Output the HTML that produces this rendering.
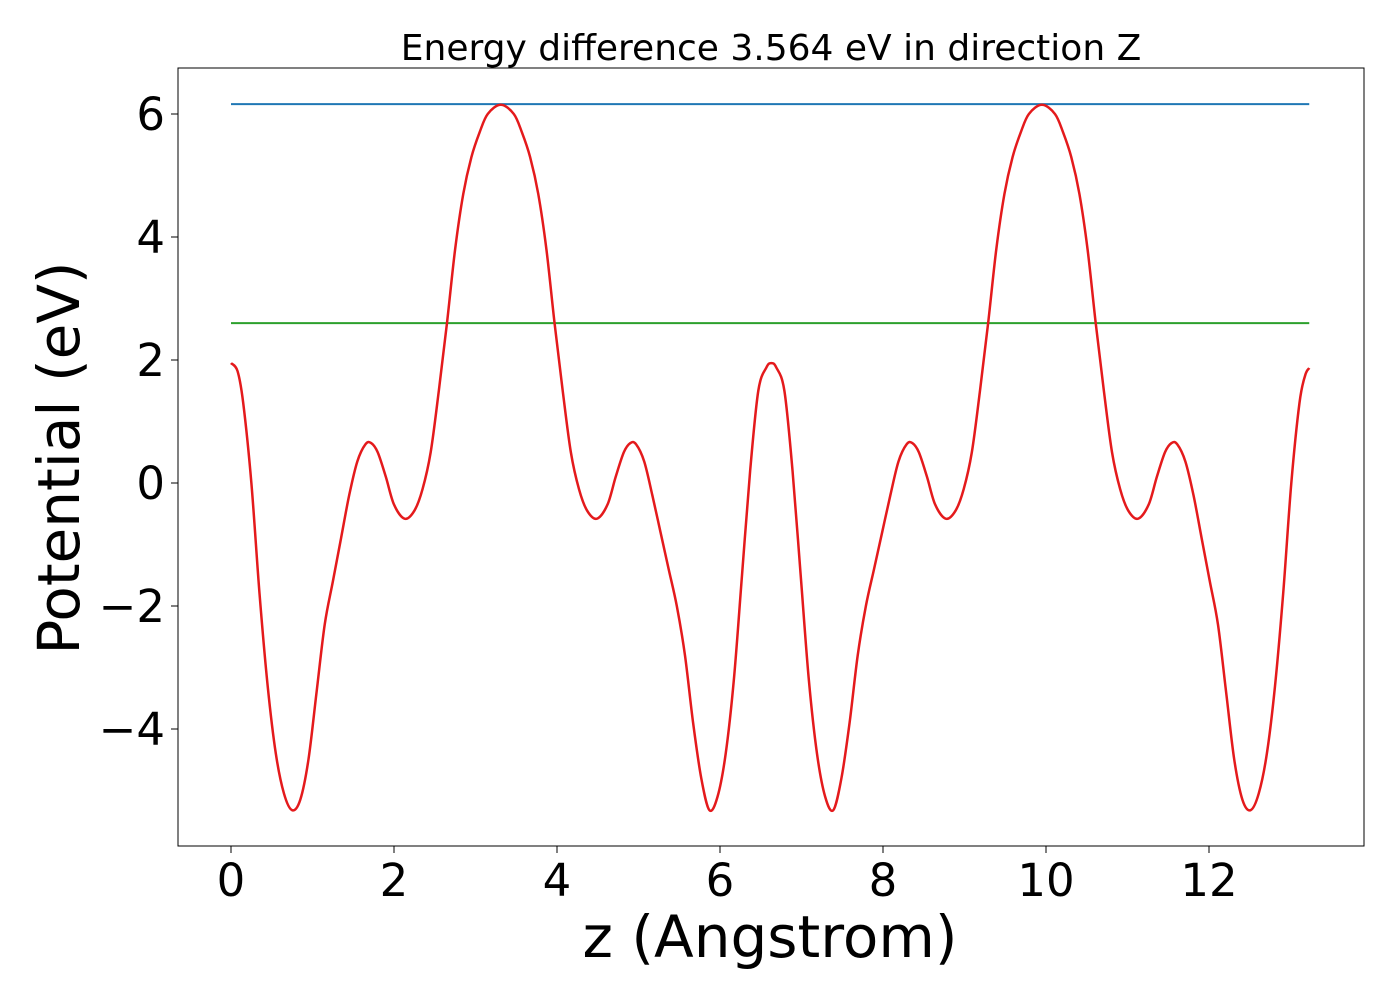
<!DOCTYPE html>
<html><head><meta charset="utf-8"><style>
body{margin:0;background:#fff;}
svg text{font-family:"DejaVu Sans","Liberation Sans",sans-serif;fill:#000;}
</style></head><body>
<svg width="1400" height="1000" id="chart"></svg>
<script>
const xs=[0,0.08,0.15,0.25,0.35,0.45,0.55,0.65,0.75,0.85,0.95,1.05,1.15,1.25,1.35,1.45,1.55,1.65,1.72,1.80,1.90,2.00,2.13,2.25,2.35,2.45,2.55,2.65,2.75,2.85,2.95,3.05,3.15,3.31,3.47,3.57,3.67,3.77,3.87,3.97,4.07,4.17,4.27,4.37,4.49,4.62,4.72,4.82,4.90,4.97,5.07,5.17,5.27,5.37,5.47,5.57,5.67,5.77,5.87,5.97,6.07,6.17,6.27,6.37,6.47,6.57,6.63,
6.69,6.79,6.89,6.99,7.09,7.19,7.29,7.39,7.49,7.59,7.69,7.79,7.89,7.99,8.09,8.19,8.29,8.36,8.44,8.54,8.64,8.77,8.89,8.99,9.09,9.19,9.29,9.39,9.49,9.59,9.69,9.79,9.95,10.11,10.21,10.31,10.41,10.51,10.61,10.71,10.81,10.91,11.01,11.13,11.26,11.36,11.46,11.54,11.61,11.71,11.81,11.91,12.01,12.11,12.21,12.31,12.41,12.51,12.61,12.71,12.81,12.91,13.01,13.11,13.18,13.23];
const potential=[1.95,1.82,1.3,0.0,-1.8,-3.3,-4.4,-5.05,-5.32,-5.15,-4.5,-3.4,-2.3,-1.6,-0.9,-0.2,0.35,0.63,0.65,0.5,0.1,-0.35,-0.58,-0.45,-0.1,0.5,1.5,2.6,3.8,4.7,5.3,5.7,6.0,6.15,6.0,5.7,5.3,4.7,3.8,2.6,1.5,0.5,-0.1,-0.45,-0.58,-0.35,0.1,0.5,0.65,0.63,0.35,-0.2,-0.8,-1.4,-2.0,-2.8,-3.9,-4.8,-5.32,-5.1,-4.4,-3.2,-1.5,0.2,1.5,1.88,1.95,
1.88,1.5,0.2,-1.5,-3.2,-4.4,-5.1,-5.32,-4.8,-3.9,-2.8,-2.0,-1.4,-0.8,-0.2,0.35,0.63,0.65,0.5,0.1,-0.35,-0.58,-0.45,-0.1,0.5,1.5,2.6,3.8,4.7,5.3,5.7,6.0,6.15,6.0,5.7,5.3,4.7,3.8,2.6,1.5,0.5,-0.1,-0.45,-0.58,-0.35,0.1,0.5,0.65,0.63,0.35,-0.2,-0.9,-1.6,-2.3,-3.4,-4.5,-5.15,-5.32,-5.05,-4.4,-3.3,-1.8,0.0,1.3,1.75,1.87];
const maxLevel=6.16;
const meanLevel=2.60;
const xTicks=[0,2,4,6,8,10,12];
const yTicks=[6,4,2,0,-2,-4];
const NS="http://www.w3.org/2000/svg";
const svg=document.getElementById('chart');
const X=v=>231+v*81.5, Y=v=>483-v*61.5;
function mk(t,a,txt){const e=document.createElementNS(NS,t);for(const k in a)e.setAttribute(k,a[k]);if(txt!==undefined)e.textContent=txt;svg.appendChild(e);return e;}
let e=mk('rect',{x:178,y:68,width:1186,height:778,fill:'none',stroke:'#000','stroke-width':1});

const x0=X(xs[0]),x1=X(xs[xs.length-1]);
e=mk('line',{x1:x0,x2:x1,y1:Y(maxLevel),y2:Y(maxLevel),stroke:'#1f77b4','stroke-width':2});

e=mk('line',{x1:x0,x2:x1,y1:Y(meanLevel),y2:Y(meanLevel),stroke:'#2ca02c','stroke-width':2});

const P=xs.map((x,i)=>[X(x),Y(potential[i])]);
let d='M'+P[0][0]+','+P[0][1];
for(let i=0;i<P.length-1;i++){const p0=P[Math.max(0,i-1)],p1=P[i],p2=P[i+1],p3=P[Math.min(P.length-1,i+2)];
const c1x=p1[0]+(p2[0]-p0[0])/6,c1y=p1[1]+(p2[1]-p0[1])/6,c2x=p2[0]-(p3[0]-p1[0])/6,c2y=p2[1]-(p3[1]-p1[1])/6;
d+=' C'+c1x+','+c1y+' '+c2x+','+c2y+' '+p2[0]+','+p2[1];}
e=mk('path',{d:d,fill:'none',stroke:'#e41a1c','stroke-width':2.5,'stroke-linejoin':'round'});

xTicks.forEach(t=>{let l=mk('line',{x1:X(t),x2:X(t),y1:846,y2:853,stroke:'#000','stroke-width':1});

let s=mk('text',{x:X(t),y:896,'text-anchor':'middle','font-size':45},String(t));
});
yTicks.forEach(t=>{let l=mk('line',{x1:171,x2:178,y1:Y(t),y2:Y(t),stroke:'#000','stroke-width':1});

let s=mk('text',{x:165,y:Y(t)+16,'text-anchor':'end','font-size':45},t<0?'\u2212'+(-t):String(t));
});
e=mk('text',{x:771,y:60,'text-anchor':'middle','font-size':36},'Energy difference 3.564 eV in direction Z');

e=mk('text',{x:770,y:957,'text-anchor':'middle','font-size':58},'z (Angstrom)');

e=mk('text',{x:0,y:0,'text-anchor':'middle','font-size':58,transform:'translate(79,458) rotate(-90)'},'Potential (eV)');

</script>
</body></html>
